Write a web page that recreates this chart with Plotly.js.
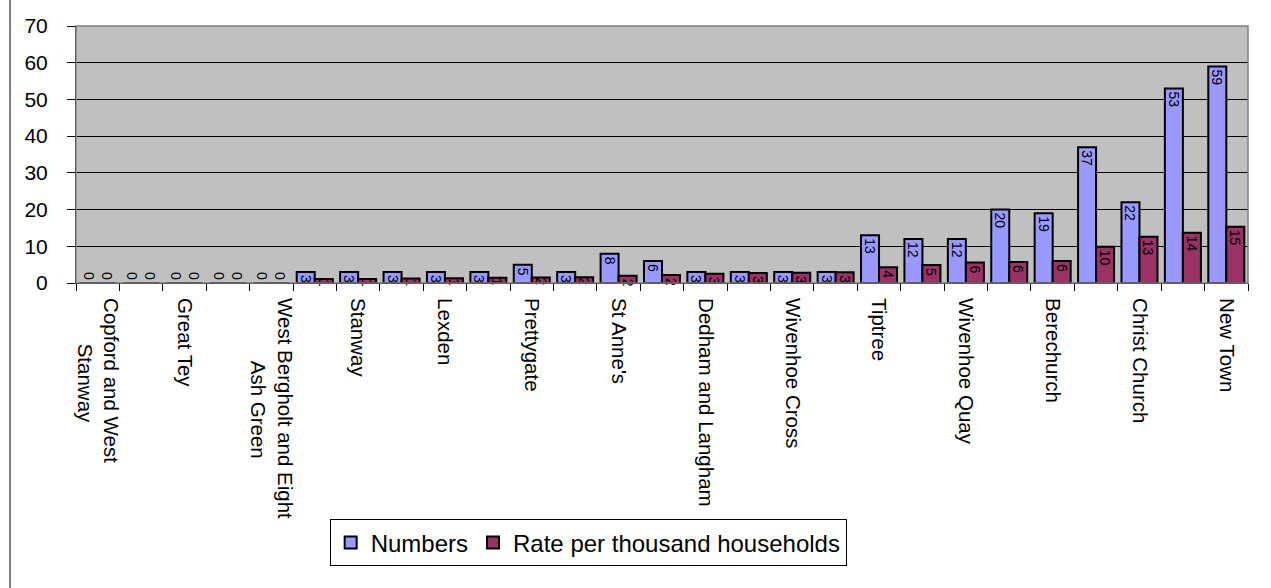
<!DOCTYPE html>
<html><head><meta charset="utf-8">
<script src="https://cdn.plot.ly/plotly-3.0.1.min.js"></script>
<style>html,body{margin:0;padding:0;background:#fff}#chart{width:1271px;height:588px}</style>
</head><body><div id="chart"></div>
<script>
// 27 wards; only every other one is labelled in the original
const labelPositions = [1,3,5,7,9,11,13,15,17,19,21,23,25,27];
const tickLabels = ["Copford and West<br>\u00A0\u00A0\u00A0\u00A0\u00A0\u00A0\u00A0\u00A0Stanway","Great Tey","West Bergholt and Eight<br>\u00A0\u00A0\u00A0\u00A0\u00A0\u00A0\u00A0\u00A0\u00A0\u00A0\u00A0Ash Green","Stanway","Lexden","Prettygate","St Anne's","Dedham and Langham","Wivenhoe Cross","Tiptree","Wivenhoe Quay","Berechurch","Christ Church","New Town"];
const numbers = [0,0,0,0,0,3,3,3,3,3,5,3,8,6,3,3,3,3,13,12,12,20,19,37,22,53,59];
const rates   = [0,0,0,0,0,1.1,1.1,1.2,1.3,1.4,1.5,1.6,2.0,2.2,2.5,2.7,2.8,2.9,4.3,4.9,5.6,5.7,6.0,9.9,12.6,13.7,15.3];
const xpos = numbers.map((_, i) => i + 1);

const font = "Arial, 'Liberation Sans', sans-serif";
const posFor = arr => arr.map(v => v === 0 ? 'outside' : 'inside');
const common = {
  type: 'bar', x: xpos, insidetextanchor: 'end',
  textangle: 90, constraintext: 'none', cliponaxis: false,
  textfont: {family: font, size: 14, color: '#000'},
  outsidetextfont: {family: font, size: 14, color: '#000'},
  texttemplate: '%{y:.0f}', hoverinfo: 'skip'
};
const data = [
  Object.assign({}, common, {name: 'Numbers', y: numbers, textposition: posFor(numbers),
    marker: {color: '#9999FF', line: {color: '#000', width: 2}}}),
  Object.assign({}, common, {name: 'Rate per thousand households', y: rates, textposition: posFor(rates),
    marker: {color: '#993366', line: {color: '#000', width: 2}}})
];
const layout = {
  width: 1271, height: 588,
  margin: {l: 76, r: 23, t: 26, b: 305},
  paper_bgcolor: '#fff', plot_bgcolor: '#C0C0C0',
  barmode: 'group', bargap: 0.17, bargroupgap: 0,
  font: {family: font, color: '#000'},
  showlegend: true,
  legend: {orientation: 'h', x: 0.437, xanchor: 'center', y: -0.92, yanchor: 'top',
    bordercolor: '#000', borderwidth: 1, bgcolor: '#fff',
    font: {family: font, size: 24, color: '#000'}, itemwidth: 30, tracegroupgap: 0},
  xaxis: {
    range: [0.5, 27.5], tickmode: 'array', tickvals: labelPositions, ticktext: tickLabels,
    ticks: '', tickangle: 90, ticklabelstandoff: 10,
    tickfont: {family: font, size: 20.5, color: '#000'},
    showgrid: false, zeroline: false, showline: true, linecolor: '#000', linewidth: 1,
    minor: {tickmode: 'linear', tick0: 0.5, dtick: 1, ticks: 'outside', ticklen: 7,
      tickcolor: '#000', tickwidth: 1, showgrid: false},
    fixedrange: true
  },
  yaxis: {
    range: [0, 70], dtick: 10, ticks: 'outside', ticklen: 8, tickcolor: '#000',
    tickfont: {family: font, size: 21, color: '#000'}, ticklabelstandoff: 15,
    showgrid: true, gridcolor: '#000', gridwidth: 1, zeroline: false,
    showline: true, linecolor: '#000', linewidth: 1, fixedrange: true
  },
  shapes: [
    {type: 'rect', xref: 'paper', yref: 'paper', x0: 0, x1: 1, y0: 0, y1: 1,
      line: {color: '#808080', width: 1.5}, layer: 'above'},
    {type: 'line', xref: 'paper', yref: 'paper', x0: -0.0563, x1: -0.0563, y0: -1.2, y1: 1.2,
      line: {color: '#000', width: 1}}
  ]
};
Plotly.newPlot('chart', data, layout, {displayModeBar: false, staticPlot: true});
</script></body></html>
